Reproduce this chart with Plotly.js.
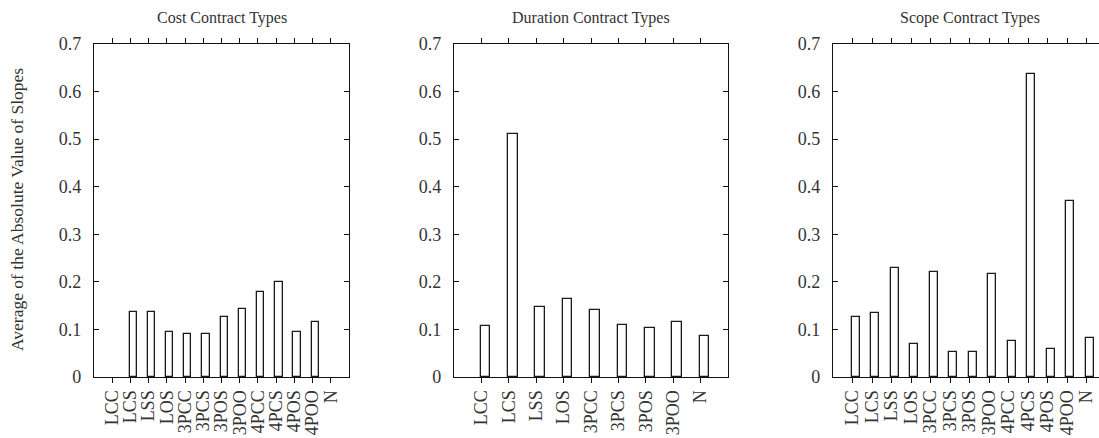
<!DOCTYPE html>
<html>
<head>
<meta charset="utf-8">
<script src="https://cdn.plot.ly/plotly-3.0.1.min.js"></script>
<style>
html, body { margin:0; padding:0; overflow:hidden; background:#fff; }
#chart { width:1110px; height:438px; }
</style>
</head>
<body>
<div id="chart"></div>
<script>
// ---- data ----
const costCategories = ["LCC","LCS","LSS","LOS","3PCC","3PCS","3POS","3POO","4PCC","4PCS","4POS","4POO","N"];
const costValues = [null, 0.137, 0.136, 0.094, 0.091, 0.091, 0.127, 0.142, 0.178, 0.199, 0.095, 0.115, null];

const durationCategories = ["LCC","LCS","LSS","LOS","3PCC","3PCS","3POS","3POO","N"];
const durationValues = [0.108, 0.511, 0.148, 0.165, 0.141, 0.110, 0.104, 0.116, 0.087];

const scopeCategories = ["LCC","LCS","LSS","LOS","3PCC","3PCS","3POS","3POO","4PCC","4PCS","4POS","4POO","N"];
const scopeValues = [0.127, 0.135, 0.230, 0.070, 0.220, 0.053, 0.052, 0.216, 0.075, 0.636, 0.059, 0.371, 0.082];

const panelTitles = ["Cost Contract Types", "Duration Contract Types", "Scope Contract Types"];
const yTitle = "Average of the Absolute Value of Slopes";
const yTickVals = [0, 0.1, 0.2, 0.3, 0.4, 0.5, 0.6, 0.7];
const yTickText = ["0", "0.1", "0.2", "0.3", "0.4", "0.5", "0.6", "0.7"];

// ---- layout helpers ----
const W = 1110, H = 438;
const FONT = "Liberation Serif";
const TXT = "#333333";
const panelsPx = [[94, 349], [454, 728], [833, 1106]];
const yPx = [44, 377];
const yDomain = [(H - yPx[1]) / H, (H - yPx[0]) / H];

function bar(cats, vals, xa, ya, offset, width) {
  return {
    type: "bar", x: cats, y: vals, xaxis: xa, yaxis: ya,
    offset: offset, width: width,
    marker: { color: "#ffffff", line: { color: "#1a1a1a", width: 1.3 } },
    hoverinfo: "x+y", showlegend: false
  };
}

const data = [
  bar(costCategories, costValues, "x", "y", -0.05, 0.4),
  bar(durationCategories, durationValues, "x2", "y2", -0.03, 0.35),
  bar(scopeCategories, scopeValues, "x3", "y3", -0.03, 0.4)
];

function xaxis(i, cats) {
  return {
    domain: [panelsPx[i][0] / W, panelsPx[i][1] / W],
    anchor: i === 0 ? "y" : "y" + (i + 1),
    type: "category",
    categoryorder: "array", categoryarray: cats,
    tickmode: "array", tickvals: cats, ticktext: cats,
    range: [-1, i === 1 ? 9 : 13],
    showline: true, linecolor: "#111", linewidth: 1.3, mirror: "ticks",
    ticks: "outside", ticklen: 5, tickwidth: 1, tickcolor: "#111",
    tickangle: -90, showgrid: false, zeroline: false,
    tickfont: { family: FONT, size: 18, color: TXT },
    fixedrange: true
  };
}
function yaxis(i) {
  return {
    domain: yDomain,
    anchor: i === 0 ? "x" : "x" + (i + 1),
    range: [0, 0.7],
    tickmode: "array", tickvals: yTickVals, ticktext: yTickText,
    showline: true, linecolor: "#111", linewidth: 1.3, mirror: "ticks",
    ticks: "inside", ticklen: 5, tickwidth: 1, tickcolor: "#111",
    ticklabelstandoff: 8,
    showgrid: false, zeroline: false,
    tickfont: { family: FONT, size: 18, color: TXT },
    fixedrange: true
  };
}

const annotations = panelTitles.map((t, i) => ({
  text: t, xref: "paper", yref: "paper",
  x: (panelsPx[i][0] + panelsPx[i][1]) / 2 / W, y: (H - 18) / H,
  xanchor: "center", yanchor: "middle", showarrow: false,
  font: { family: FONT, size: 16, color: TXT }
}));
annotations.push({
  text: yTitle, xref: "paper", yref: "paper",
  x: 17 / W, y: (H - 210) / H, xanchor: "center", yanchor: "middle",
  textangle: -90, showarrow: false,
  font: { family: FONT, size: 17.5, color: TXT }
});

const layout = {
  width: W, height: H,
  margin: { l: 0, r: 0, t: 0, b: 0 },
  paper_bgcolor: "#fff", plot_bgcolor: "#fff",
  xaxis: xaxis(0, costCategories), xaxis2: xaxis(1, durationCategories), xaxis3: xaxis(2, scopeCategories),
  yaxis: yaxis(0), yaxis2: yaxis(1), yaxis3: yaxis(2),
  annotations: annotations,
  bargap: 0
};

Plotly.newPlot("chart", data, layout, { displayModeBar: false });
</script>
</body>
</html>
